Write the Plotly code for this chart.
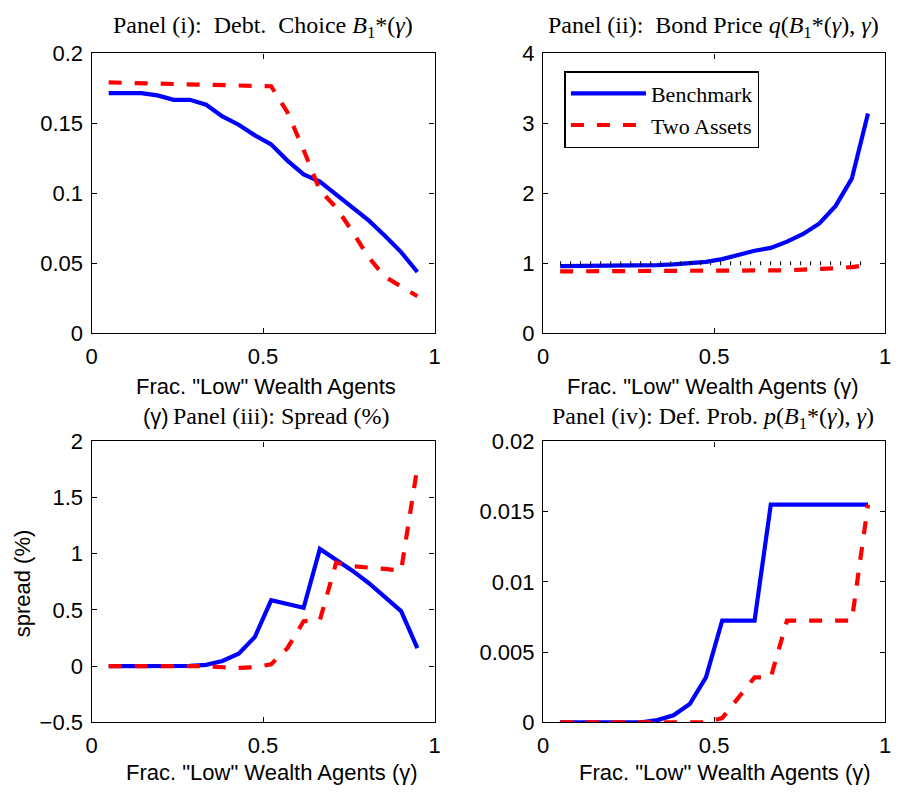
import plotly.graph_objects as go

# ---- data ----
gamma = [0.05, 0.0974, 0.1447, 0.1921, 0.2395, 0.2868, 0.3342, 0.3816, 0.4289, 0.4763,
         0.5237, 0.5711, 0.6184, 0.6658, 0.7132, 0.7605, 0.8079, 0.8553, 0.9026, 0.95]

debt_bench = [0.1716, 0.1716, 0.1716, 0.170, 0.1668, 0.1668, 0.1633, 0.155, 0.149, 0.1414,
              0.135, 0.1234, 0.1135, 0.1084, 0.0992, 0.0904, 0.0807, 0.0697, 0.058, 0.0438]
debt_two = [0.1792, 0.1790, 0.1787, 0.1784, 0.1781, 0.1778, 0.1775, 0.1772, 0.1770, 0.1768,
            0.1765, 0.158, 0.131, 0.102, 0.090, 0.0727, 0.0542, 0.0404, 0.0335, 0.0265]

price_bench = [0.96, 0.96, 0.96, 0.962, 0.965, 0.97, 0.975, 0.985, 1.0, 1.02,
               1.06, 1.12, 1.18, 1.22, 1.31, 1.42, 1.57, 1.82, 2.21, 3.14]
price_two = [0.885, 0.885, 0.885, 0.885, 0.885, 0.885, 0.885, 0.885, 0.885, 0.885,
             0.885, 0.885, 0.885, 0.887, 0.90, 0.91, 0.915, 0.93, 0.946, 0.978]
price_riskfree = [1.0] * 20

spread_bench = [0.0, 0.0, 0.0, 0.0, 0.0, 0.003, 0.012, 0.046, 0.11, 0.26,
                0.586, 0.555, 0.52, 1.043, 0.95, 0.85, 0.74, 0.62, 0.49, 0.16]
spread_two = [0.0, 0.0, 0.0, 0.005, 0.0, 0.0, 0.0, -0.01, -0.015, -0.01,
              0.017, 0.16, 0.40, 0.41, 0.92, 0.89, 0.88, 0.865, 0.85, 1.77]

prob_bench = [0.0, 0.0, 0.0, 0.0, 0.0, 0.0, 0.00016, 0.0005, 0.0013, 0.0032,
              0.00724, 0.00724, 0.00724, 0.0155, 0.0155, 0.0155, 0.0155, 0.0155, 0.0155, 0.0155]
prob_two = [0.0, 0.0, 0.0, 0.0, 0.0, 0.0, 0.0, 0.0, 0.0, 0.0,
            0.0003, 0.0018, 0.0032, 0.0032, 0.00724, 0.00724, 0.00724, 0.00724, 0.00724, 0.0155]

x_ticks = [0, 0.5, 1]
x_ticktext = ["0", "0.5", "1"]
y1_ticks = [0, 0.05, 0.1, 0.15, 0.2]
y1_text = ["0", "0.05", "0.1", "0.15", "0.2"]
y2_ticks = [0, 1, 2, 3, 4]
y2_text = ["0", "1", "2", "3", "4"]
y3_ticks = [-0.5, 0, 0.5, 1, 1.5, 2]
y3_text = ["\u22120.5", "0", "0.5", "1", "1.5", "2"]
y4_ticks = [0, 0.005, 0.01, 0.015, 0.02]
y4_text = ["0", "0.005", "0.01", "0.015", "0.02"]

# ---- style ----
W, H = 899, 798
BLUE = "#0000ff"
RED = "#ff0000"
SANS = "Liberation Sans, Arial, sans-serif"
SERIF = "Liberation Serif, Times New Roman, serif"
LW = 4.2
DASH = "13px,13px"
TFS = 24  # title font size
LFS = 22  # label font size


def px_x(p):
    return p / W


def px_y(p):
    return 1 - p / H


fig = go.Figure()

panels = [
    ("x", "y", debt_bench, debt_two),
    ("x2", "y2", price_bench, price_two),
    ("x3", "y3", spread_bench, spread_two),
    ("x4", "y4", prob_bench, prob_two),
]
for i, (xa, ya, b, t) in enumerate(panels):
    fig.add_trace(go.Scatter(x=gamma, y=b, xaxis=xa, yaxis=ya, mode="lines",
                             line=dict(color=BLUE, width=LW), name="Benchmark",
                             showlegend=(i == 1), legendgroup="b"))
    fig.add_trace(go.Scatter(x=gamma, y=t, xaxis=xa, yaxis=ya, mode="lines",
                             line=dict(color=RED, width=LW, dash=DASH), name="Two Assets",
                             showlegend=(i == 1), legendgroup="t"))

fig.add_trace(go.Scatter(x=gamma, y=price_riskfree, xaxis="x2", yaxis="y2", mode="lines",
                         line=dict(color="black", width=4, dash="1px,9px"),
                         showlegend=False))

L1, R1 = 86.7, 434.3
L2, R2 = 544.3, 891.0
T1, B1 = 42.7, 331.7
T2, B2 = 443.3, 733.3

axis_common = dict(showline=True, linecolor="black", linewidth=1.3, mirror="ticks",
                   ticks="inside", ticklen=5, tickwidth=1, tickcolor="black",
                   showgrid=False, zeroline=False,
                   tickfont=dict(family=SANS, size=LFS, color="black"))

def xax(l, r, anchor):
    return dict(axis_common, domain=[px_x(l), px_x(r)], range=[0, 1], anchor=anchor,
                tickvals=x_ticks, ticktext=x_ticktext, ticklabelstandoff=3)

def yax(t, b, rng, tv, tt, anchor):
    return dict(axis_common, domain=[px_y(b), px_y(t)], range=rng, anchor=anchor,
                tickvals=tv, ticktext=tt, ticklabelstandoff=3)

fig.update_layout(
    width=W, height=H,
    margin=dict(l=0, r=0, t=0, b=0),
    paper_bgcolor="white", plot_bgcolor="white",
    xaxis=xax(L1, R1, "y"),
    yaxis=yax(T1, B1, [0, 0.2], y1_ticks, y1_text, "x"),
    xaxis2=xax(L2, R2, "y2"),
    yaxis2=yax(T1, B1, [0, 4], y2_ticks, y2_text, "x2"),
    xaxis3=xax(L1, R1, "y3"),
    yaxis3=yax(T2, B2, [-0.5, 2], y3_ticks, y3_text, "x3"),
    xaxis4=xax(L2, R2, "y4"),
    yaxis4=yax(T2, B2, [0, 0.02], y4_ticks, y4_text, "x4"),
    legend=dict(x=px_x(566), y=px_y(61), xanchor="left", yanchor="top",
                bordercolor="black", borderwidth=1.5, bgcolor="white",
                font=dict(family=SERIF, size=22, color="black"),
                tracegroupgap=0, itemwidth=75),
    showlegend=True,
)

annots = [
    # titles
    dict(x=260, y=15, text="Panel (i):  Debt.  Choice <i>B</i><sub>1</sub>*(<i>\u03b3</i>)",
         font=dict(family=SERIF, size=TFS)),
    dict(x=717, y=15, text="Panel (ii):  Bond Price <i>q</i>(<i>B</i><sub>1</sub>*(<i>\u03b3</i>), <i>\u03b3</i>)",
         font=dict(family=SERIF, size=TFS)),
    dict(x=279, y=417, text="Panel (iii): Spread (%)", font=dict(family=SERIF, size=TFS)),
    dict(x=152, y=418, text="(\u03b3)", font=dict(family=SANS, size=LFS)),
    dict(x=717, y=419, text="Panel (iv): Def. Prob. <i>p</i>(<i>B</i><sub>1</sub>*(<i>\u03b3</i>), <i>\u03b3</i>)",
         font=dict(family=SERIF, size=TFS)),
    # x labels
    dict(x=264, y=387, text="Frac. \"Low\" Wealth Agents", font=dict(family=SANS, size=LFS)),
    dict(x=717, y=387, text="Frac. \"Low\" Wealth Agents (\u03b3)", font=dict(family=SANS, size=LFS)),
    dict(x=270, y=785, text="Frac. \"Low\" Wealth Agents (\u03b3)", font=dict(family=SANS, size=LFS)),
    dict(x=729, y=785, text="Frac. \"Low\" Wealth Agents (\u03b3)", font=dict(family=SANS, size=LFS)),
]
for a in annots:
    fig.add_annotation(x=px_x(a["x"]), y=px_y(a["y"]), xref="paper", yref="paper",
                       text=a["text"], showarrow=False, xanchor="center", yanchor="middle",
                       font=dict(a["font"], color="black"))

fig.add_annotation(x=px_x(17), y=px_y(590), xref="paper", yref="paper",
                   text="spread (%)", textangle=-90, showarrow=False,
                   xanchor="center", yanchor="middle",
                   font=dict(family=SANS, size=LFS, color="black"))

fig.write_html("out.html", config={"displayModeBar": False},
               post_script="document.body.style.margin='0';")
